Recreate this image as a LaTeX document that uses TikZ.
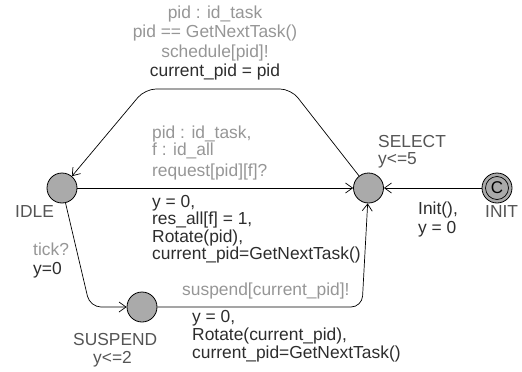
\documentclass[tikz,border=0pt]{standalone}
\usepackage{fontspec}
\setmainfont{Liberation Sans}
\usetikzlibrary{arrows.meta}
\definecolor{lightlbl}{RGB}{150,150,150}
\definecolor{darklbl}{RGB}{45,45,45}
\definecolor{namecol}{RGB}{85,85,85}
\definecolor{locfill}{RGB}{170,170,170}
\newcommand{\firststrut}{\rule{0pt}{13pt}}
\begin{document}
\begin{tikzpicture}[x=1pt,y=-1pt,
  loc/.style={circle, draw=black, fill=locfill, minimum size=30pt, inner sep=0pt, line width=0.8pt},
  edge/.style={draw=black, line width=0.7pt, rounded corners=11pt, -{Straight Barb[length=7pt,width=10pt]}},
  lbl/.style={inner sep=0pt, font=\fontsize{17.4}{17.5}\selectfont},
  guard/.style={lbl, text=lightlbl},
  assign/.style={lbl, text=darklbl},
  locname/.style={lbl, text=namecol}
]
\useasboundingbox (0,0) rectangle (522,372);

% locations
\node[loc] (idle) at (62,188) {};
\node[loc] (select) at (368.5,188) {};
\node[loc] (suspend) at (142,307) {};
\node[loc] (init) at (497,188) {};
\node[circle, draw=black, line width=0.7pt, minimum size=23pt, inner sep=0pt] (initin) at (init) {};
\node[inner sep=0pt, font=\fontsize{17}{17}\selectfont] (initc) at (init) {C};

% corner coordinates
\coordinate (tr) at (291,89);
\coordinate (tl) at (145,89);
\coordinate (bl) at (90,307);
\coordinate (br) at (362,307);

% edges
\draw[edge] (select) -- (tr) -- (tl) -- (idle);
\draw[edge] (idle) -- (select);
\draw[edge] (init) -- (select);
\draw[edge] (idle) -- (bl) -- (suspend);
\draw[edge] (suspend) -- (br) -- (select);

% location names
\node[locname, anchor=base west] (idlename) at (15,217) {IDLE};
\node[locname, anchor=north west, align=left, font=\fontsize{17.4}{17}\selectfont] (selectname) at (378,134) {\firststrut SELECT\\y<=5};
\node[locname, anchor=base west] (initname) at (485,217) {INIT};
\node[locname, anchor=base west] (suspendname) at (73,345) {SUSPEND};
\node[locname, anchor=base west] (suspendinv) at (93,363) {y<=2};

% top edge labels
\node[lbl, anchor=north, align=center, font=\fontsize{17.4}{19.5}\selectfont] (toplbl) at (215,5)
  {\textcolor{lightlbl}{\firststrut pid : id\_task}\\
   \textcolor{lightlbl}{pid == GetNextTask()}\\
   \textcolor{lightlbl}{schedule[pid]!}\\
   \textcolor{darklbl}{current\_pid = pid}};

% middle edge labels
\node[guard, anchor=north west, align=left, font=\fontsize{17.4}{17}\selectfont] (midsel) at (152,125)
  {\firststrut pid : id\_task,\\ f : id\_all\\[4pt] request[pid][f]?};
\node[assign, anchor=north west, align=left] (midasg) at (152,194)
  {\firststrut y = 0,\\ res\_all[f] = 1,\\ Rotate(pid),\\ current\_pid=GetNextTask()};

% init edge labels
\node[assign, anchor=north west, align=left, font=\fontsize{17.4}{19}\selectfont] (initasg) at (418,201)
  {\firststrut Init(),\\ y = 0};

% idle -> suspend labels
\node[guard, anchor=base west] (ticksync) at (33,255) {tick?};
\node[assign, anchor=base west] (tickasg) at (33,274) {y=0};

% suspend -> select labels
\node[guard, anchor=base west] (suspsync) at (182,295) {suspend[current\_pid]!};
\node[assign, anchor=north west, align=left, font=\fontsize{17.4}{18}\selectfont] (suspasg) at (192,309)
  {\firststrut y = 0,\\ Rotate(current\_pid),\\ current\_pid=GetNextTask()};
\end{tikzpicture}
\end{document}
